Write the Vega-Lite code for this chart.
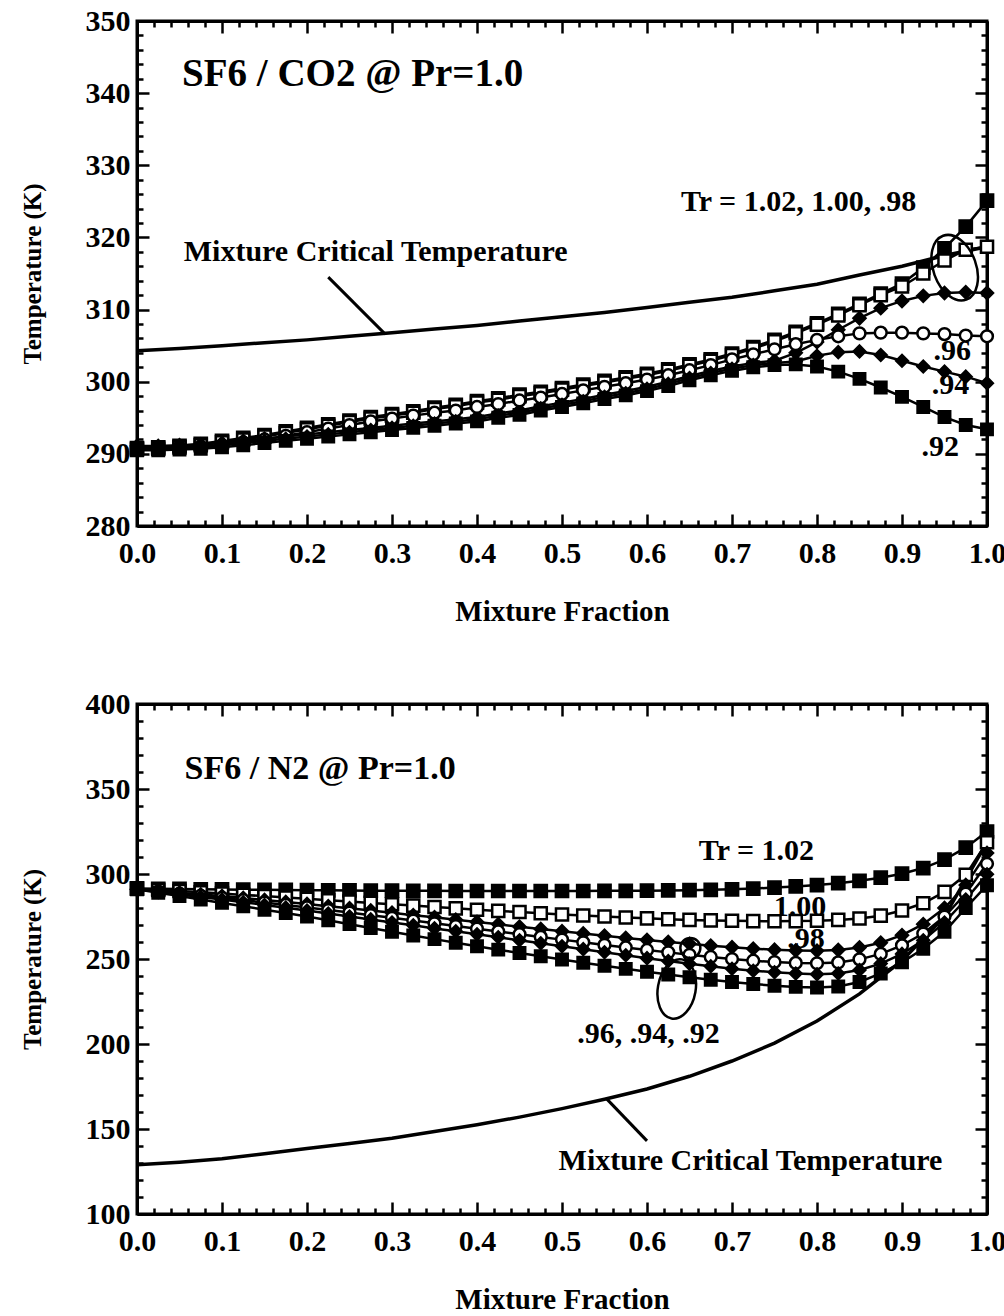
{
  "$schema": "https://vega.github.io/schema/vega-lite/v6.json",
  "background": "white",
  "padding": {"left": 18, "top": 4, "right": 0, "bottom": 0},
  "spacing": 59,
  "config": {
    "font": "Liberation Serif",
    "view": {"stroke": "black", "strokeWidth": 3},
    "axis": {"domainColor": "black", "domainWidth": 3, "tickColor": "black", "tickWidth": 2.5, "labelColor": "black", "titleColor": "black", "labelFont": "Liberation Serif", "titleFont": "Liberation Serif", "labelFontWeight": "bold", "labelFontSize": 30, "titleFontWeight": "bold", "labelOverlap": false, "labelFlush": false, "grid": false}
  },
  "datasets": {
    "crit": [
      {"p":"C","f":0,"t":304.3},{"p":"C","f":0.05,"t":304.6},{"p":"C","f":0.1,"t":305.0},{"p":"C","f":0.15,"t":305.4},{"p":"C","f":0.2,"t":305.8},{"p":"C","f":0.25,"t":306.3},{"p":"C","f":0.3,"t":306.8},{"p":"C","f":0.35,"t":307.3},{"p":"C","f":0.4,"t":307.8},{"p":"C","f":0.45,"t":308.4},{"p":"C","f":0.5,"t":309.0},{"p":"C","f":0.55,"t":309.6},{"p":"C","f":0.6,"t":310.3},{"p":"C","f":0.65,"t":311.0},{"p":"C","f":0.7,"t":311.7},{"p":"C","f":0.75,"t":312.6},{"p":"C","f":0.8,"t":313.5},{"p":"C","f":0.85,"t":314.8},{"p":"C","f":0.9,"t":316.0},{"p":"C","f":0.95,"t":317.5},{"p":"C","f":1,"t":318.7},
      {"p":"N","f":0,"t":129.0},{"p":"N","f":0.05,"t":130.5},{"p":"N","f":0.1,"t":132.5},{"p":"N","f":0.15,"t":135.5},{"p":"N","f":0.2,"t":138.5},{"p":"N","f":0.25,"t":141.5},{"p":"N","f":0.3,"t":144.5},{"p":"N","f":0.35,"t":148.5},{"p":"N","f":0.4,"t":152.5},{"p":"N","f":0.45,"t":157.0},{"p":"N","f":0.5,"t":162.0},{"p":"N","f":0.55,"t":167.5},{"p":"N","f":0.6,"t":173.5},{"p":"N","f":0.65,"t":181.0},{"p":"N","f":0.7,"t":190.0},{"p":"N","f":0.75,"t":200.5},{"p":"N","f":0.8,"t":213.5},{"p":"N","f":0.85,"t":229.5},{"p":"N","f":0.9,"t":249.0},{"p":"N","f":0.95,"t":275.0},{"p":"N","f":1,"t":318.7}
    ],
    "lead": [
      {"p":"C","f":0.225,"t":314.5},{"p":"C","f":0.292,"t":306.6},
      {"p":"N","f":0.552,"t":168.0},{"p":"N","f":0.6,"t":143.0}
    ],
    "ann": [
      {"p":"C","f":0.055,"t":318.0,"label":"Mixture Critical Temperature"},
      {"p":"C","f":0.64,"t":324.9,"label":"Tr = 1.02, 1.00, .98"},
      {"p":"C","f":0.937,"t":304.3,"label":".96"},
      {"p":"C","f":0.935,"t":299.6,"label":".94"},
      {"p":"C","f":0.923,"t":291.0,"label":".92"},
      {"p":"N","f":0.661,"t":313.5,"label":"Tr = 1.02"},
      {"p":"N","f":0.749,"t":280.6,"label":"1.00"},
      {"p":"N","f":0.765,"t":261.8,"label":".98"},
      {"p":"N","f":0.518,"t":205.9,"label":".96, .94, .92"},
      {"p":"N","f":0.496,"t":131.2,"label":"Mixture Critical Temperature"}
    ],
    "titles": [
      {"p":"C","f":0.053,"t":342.65,"label":"SF6 / CO2 @ Pr=1.0"},
      {"p":"N","f":0.056,"t":361.8,"label":"SF6 / N2 @ Pr=1.0"}
    ],
    "ell": [
      {"p":"C","k":"big","f":0.962,"t":315.8},
      {"p":"N","k":"big","f":0.635,"t":232.4},
      {"p":"N","k":"small","f":0.651,"t":256.5}
    ],
    "s": [
{"p":"C","s":"1.02","f":0,"t":290.8},{"p":"C","s":"1.02","f":0.025,"t":290.9},{"p":"C","s":"1.02","f":0.05,"t":291.1},{"p":"C","s":"1.02","f":0.075,"t":291.4},{"p":"C","s":"1.02","f":0.1,"t":291.8},{"p":"C","s":"1.02","f":0.125,"t":292.2},{"p":"C","s":"1.02","f":0.15,"t":292.6},{"p":"C","s":"1.02","f":0.175,"t":293.1},{"p":"C","s":"1.02","f":0.2,"t":293.6},{"p":"C","s":"1.02","f":0.225,"t":294.1},{"p":"C","s":"1.02","f":0.25,"t":294.6},{"p":"C","s":"1.02","f":0.275,"t":295.1},{"p":"C","s":"1.02","f":0.3,"t":295.5},{"p":"C","s":"1.02","f":0.325,"t":295.9},{"p":"C","s":"1.02","f":0.35,"t":296.4},{"p":"C","s":"1.02","f":0.375,"t":296.8},{"p":"C","s":"1.02","f":0.4,"t":297.3},{"p":"C","s":"1.02","f":0.425,"t":297.7},{"p":"C","s":"1.02","f":0.45,"t":298.2},{"p":"C","s":"1.02","f":0.475,"t":298.6},{"p":"C","s":"1.02","f":0.5,"t":299.1},{"p":"C","s":"1.02","f":0.525,"t":299.6},{"p":"C","s":"1.02","f":0.55,"t":300.1},{"p":"C","s":"1.02","f":0.575,"t":300.6},{"p":"C","s":"1.02","f":0.6,"t":301.1},{"p":"C","s":"1.02","f":0.625,"t":301.7},{"p":"C","s":"1.02","f":0.65,"t":302.4},{"p":"C","s":"1.02","f":0.675,"t":303.1},{"p":"C","s":"1.02","f":0.7,"t":303.9},{"p":"C","s":"1.02","f":0.725,"t":304.8},{"p":"C","s":"1.02","f":0.75,"t":305.8},{"p":"C","s":"1.02","f":0.775,"t":306.9},{"p":"C","s":"1.02","f":0.8,"t":308.1},{"p":"C","s":"1.02","f":0.825,"t":309.4},{"p":"C","s":"1.02","f":0.85,"t":310.8},{"p":"C","s":"1.02","f":0.875,"t":312.2},{"p":"C","s":"1.02","f":0.9,"t":313.6},{"p":"C","s":"1.02","f":0.925,"t":315.8},{"p":"C","s":"1.02","f":0.95,"t":318.5},{"p":"C","s":"1.02","f":0.975,"t":321.5},{"p":"C","s":"1.02","f":1,"t":325.1},
{"p":"C","s":"1.00","f":0,"t":290.6},{"p":"C","s":"1.00","f":0.025,"t":290.7},{"p":"C","s":"1.00","f":0.05,"t":290.9},{"p":"C","s":"1.00","f":0.075,"t":291.2},{"p":"C","s":"1.00","f":0.1,"t":291.6},{"p":"C","s":"1.00","f":0.125,"t":292.0},{"p":"C","s":"1.00","f":0.15,"t":292.4},{"p":"C","s":"1.00","f":0.175,"t":292.9},{"p":"C","s":"1.00","f":0.2,"t":293.4},{"p":"C","s":"1.00","f":0.225,"t":293.9},{"p":"C","s":"1.00","f":0.25,"t":294.4},{"p":"C","s":"1.00","f":0.275,"t":294.9},{"p":"C","s":"1.00","f":0.3,"t":295.3},{"p":"C","s":"1.00","f":0.325,"t":295.7},{"p":"C","s":"1.00","f":0.35,"t":296.2},{"p":"C","s":"1.00","f":0.375,"t":296.6},{"p":"C","s":"1.00","f":0.4,"t":297.1},{"p":"C","s":"1.00","f":0.425,"t":297.5},{"p":"C","s":"1.00","f":0.45,"t":298.0},{"p":"C","s":"1.00","f":0.475,"t":298.4},{"p":"C","s":"1.00","f":0.5,"t":298.9},{"p":"C","s":"1.00","f":0.525,"t":299.4},{"p":"C","s":"1.00","f":0.55,"t":299.9},{"p":"C","s":"1.00","f":0.575,"t":300.4},{"p":"C","s":"1.00","f":0.6,"t":300.9},{"p":"C","s":"1.00","f":0.625,"t":301.5},{"p":"C","s":"1.00","f":0.65,"t":302.2},{"p":"C","s":"1.00","f":0.675,"t":302.9},{"p":"C","s":"1.00","f":0.7,"t":303.7},{"p":"C","s":"1.00","f":0.725,"t":304.6},{"p":"C","s":"1.00","f":0.75,"t":305.6},{"p":"C","s":"1.00","f":0.775,"t":306.7},{"p":"C","s":"1.00","f":0.8,"t":307.9},{"p":"C","s":"1.00","f":0.825,"t":309.2},{"p":"C","s":"1.00","f":0.85,"t":310.6},{"p":"C","s":"1.00","f":0.875,"t":312.0},{"p":"C","s":"1.00","f":0.9,"t":313.2},{"p":"C","s":"1.00","f":0.925,"t":315.0},{"p":"C","s":"1.00","f":0.95,"t":316.8},{"p":"C","s":"1.00","f":0.975,"t":318.3},{"p":"C","s":"1.00","f":1,"t":318.7},
{"p":"C","s":".98","f":0,"t":291.1},{"p":"C","s":".98","f":0.025,"t":291.1},{"p":"C","s":".98","f":0.05,"t":291.2},{"p":"C","s":".98","f":0.075,"t":291.3},{"p":"C","s":".98","f":0.1,"t":291.5},{"p":"C","s":".98","f":0.125,"t":291.8},{"p":"C","s":".98","f":0.15,"t":292.1},{"p":"C","s":".98","f":0.175,"t":292.4},{"p":"C","s":".98","f":0.2,"t":292.7},{"p":"C","s":".98","f":0.225,"t":293.0},{"p":"C","s":".98","f":0.25,"t":293.3},{"p":"C","s":".98","f":0.275,"t":293.6},{"p":"C","s":".98","f":0.3,"t":293.9},{"p":"C","s":".98","f":0.325,"t":294.2},{"p":"C","s":".98","f":0.35,"t":294.5},{"p":"C","s":".98","f":0.375,"t":294.8},{"p":"C","s":".98","f":0.4,"t":295.1},{"p":"C","s":".98","f":0.425,"t":295.6},{"p":"C","s":".98","f":0.45,"t":296.0},{"p":"C","s":".98","f":0.475,"t":296.6},{"p":"C","s":".98","f":0.5,"t":297.1},{"p":"C","s":".98","f":0.525,"t":297.6},{"p":"C","s":".98","f":0.55,"t":298.2},{"p":"C","s":".98","f":0.575,"t":298.7},{"p":"C","s":".98","f":0.6,"t":299.3},{"p":"C","s":".98","f":0.625,"t":300.0},{"p":"C","s":".98","f":0.65,"t":300.8},{"p":"C","s":".98","f":0.675,"t":301.5},{"p":"C","s":".98","f":0.7,"t":302.1},{"p":"C","s":".98","f":0.725,"t":302.6},{"p":"C","s":".98","f":0.75,"t":302.9},{"p":"C","s":".98","f":0.775,"t":304.0},{"p":"C","s":".98","f":0.8,"t":305.5},{"p":"C","s":".98","f":0.825,"t":307.2},{"p":"C","s":".98","f":0.85,"t":308.8},{"p":"C","s":".98","f":0.875,"t":310.2},{"p":"C","s":".98","f":0.9,"t":311.2},{"p":"C","s":".98","f":0.925,"t":311.9},{"p":"C","s":".98","f":0.95,"t":312.3},{"p":"C","s":".98","f":0.975,"t":312.4},{"p":"C","s":".98","f":1,"t":312.3},
{"p":"C","s":".96","f":0,"t":290.6},{"p":"C","s":".96","f":0.025,"t":290.6},{"p":"C","s":".96","f":0.05,"t":290.7},{"p":"C","s":".96","f":0.075,"t":290.9},{"p":"C","s":".96","f":0.1,"t":291.2},{"p":"C","s":".96","f":0.125,"t":291.6},{"p":"C","s":".96","f":0.15,"t":292.0},{"p":"C","s":".96","f":0.175,"t":292.5},{"p":"C","s":".96","f":0.2,"t":293.0},{"p":"C","s":".96","f":0.225,"t":293.5},{"p":"C","s":".96","f":0.25,"t":294.0},{"p":"C","s":".96","f":0.275,"t":294.5},{"p":"C","s":".96","f":0.3,"t":294.9},{"p":"C","s":".96","f":0.325,"t":295.3},{"p":"C","s":".96","f":0.35,"t":295.7},{"p":"C","s":".96","f":0.375,"t":296.0},{"p":"C","s":".96","f":0.4,"t":296.5},{"p":"C","s":".96","f":0.425,"t":296.9},{"p":"C","s":".96","f":0.45,"t":297.4},{"p":"C","s":".96","f":0.475,"t":297.8},{"p":"C","s":".96","f":0.5,"t":298.3},{"p":"C","s":".96","f":0.525,"t":298.8},{"p":"C","s":".96","f":0.55,"t":299.3},{"p":"C","s":".96","f":0.575,"t":299.8},{"p":"C","s":".96","f":0.6,"t":300.3},{"p":"C","s":".96","f":0.625,"t":300.9},{"p":"C","s":".96","f":0.65,"t":301.6},{"p":"C","s":".96","f":0.675,"t":302.3},{"p":"C","s":".96","f":0.7,"t":303.1},{"p":"C","s":".96","f":0.725,"t":303.8},{"p":"C","s":".96","f":0.75,"t":304.5},{"p":"C","s":".96","f":0.775,"t":305.2},{"p":"C","s":".96","f":0.8,"t":305.8},{"p":"C","s":".96","f":0.825,"t":306.3},{"p":"C","s":".96","f":0.85,"t":306.7},{"p":"C","s":".96","f":0.875,"t":306.8},{"p":"C","s":".96","f":0.9,"t":306.8},{"p":"C","s":".96","f":0.925,"t":306.7},{"p":"C","s":".96","f":0.95,"t":306.6},{"p":"C","s":".96","f":0.975,"t":306.4},{"p":"C","s":".96","f":1,"t":306.3},
{"p":"C","s":".94","f":0,"t":290.8},{"p":"C","s":".94","f":0.025,"t":290.8},{"p":"C","s":".94","f":0.05,"t":290.9},{"p":"C","s":".94","f":0.075,"t":291.0},{"p":"C","s":".94","f":0.1,"t":291.2},{"p":"C","s":".94","f":0.125,"t":291.5},{"p":"C","s":".94","f":0.15,"t":291.8},{"p":"C","s":".94","f":0.175,"t":292.1},{"p":"C","s":".94","f":0.2,"t":292.4},{"p":"C","s":".94","f":0.225,"t":292.7},{"p":"C","s":".94","f":0.25,"t":293.0},{"p":"C","s":".94","f":0.275,"t":293.3},{"p":"C","s":".94","f":0.3,"t":293.6},{"p":"C","s":".94","f":0.325,"t":293.9},{"p":"C","s":".94","f":0.35,"t":294.2},{"p":"C","s":".94","f":0.375,"t":294.5},{"p":"C","s":".94","f":0.4,"t":294.8},{"p":"C","s":".94","f":0.425,"t":295.3},{"p":"C","s":".94","f":0.45,"t":295.7},{"p":"C","s":".94","f":0.475,"t":296.3},{"p":"C","s":".94","f":0.5,"t":296.8},{"p":"C","s":".94","f":0.525,"t":297.3},{"p":"C","s":".94","f":0.55,"t":297.9},{"p":"C","s":".94","f":0.575,"t":298.4},{"p":"C","s":".94","f":0.6,"t":299.0},{"p":"C","s":".94","f":0.625,"t":299.7},{"p":"C","s":".94","f":0.65,"t":300.5},{"p":"C","s":".94","f":0.675,"t":301.2},{"p":"C","s":".94","f":0.7,"t":301.8},{"p":"C","s":".94","f":0.725,"t":302.3},{"p":"C","s":".94","f":0.75,"t":302.6},{"p":"C","s":".94","f":0.775,"t":302.8},{"p":"C","s":".94","f":0.8,"t":303.6},{"p":"C","s":".94","f":0.825,"t":304.1},{"p":"C","s":".94","f":0.85,"t":304.2},{"p":"C","s":".94","f":0.875,"t":303.7},{"p":"C","s":".94","f":0.9,"t":302.9},{"p":"C","s":".94","f":0.925,"t":302.1},{"p":"C","s":".94","f":0.95,"t":301.4},{"p":"C","s":".94","f":0.975,"t":300.7},{"p":"C","s":".94","f":1,"t":299.8},
{"p":"C","s":".92","f":0,"t":290.5},{"p":"C","s":".92","f":0.025,"t":290.5},{"p":"C","s":".92","f":0.05,"t":290.6},{"p":"C","s":".92","f":0.075,"t":290.7},{"p":"C","s":".92","f":0.1,"t":290.9},{"p":"C","s":".92","f":0.125,"t":291.2},{"p":"C","s":".92","f":0.15,"t":291.5},{"p":"C","s":".92","f":0.175,"t":291.8},{"p":"C","s":".92","f":0.2,"t":292.1},{"p":"C","s":".92","f":0.225,"t":292.4},{"p":"C","s":".92","f":0.25,"t":292.7},{"p":"C","s":".92","f":0.275,"t":293.0},{"p":"C","s":".92","f":0.3,"t":293.3},{"p":"C","s":".92","f":0.325,"t":293.6},{"p":"C","s":".92","f":0.35,"t":293.9},{"p":"C","s":".92","f":0.375,"t":294.2},{"p":"C","s":".92","f":0.4,"t":294.5},{"p":"C","s":".92","f":0.425,"t":295.0},{"p":"C","s":".92","f":0.45,"t":295.4},{"p":"C","s":".92","f":0.475,"t":296.0},{"p":"C","s":".92","f":0.5,"t":296.5},{"p":"C","s":".92","f":0.525,"t":297.0},{"p":"C","s":".92","f":0.55,"t":297.6},{"p":"C","s":".92","f":0.575,"t":298.1},{"p":"C","s":".92","f":0.6,"t":298.7},{"p":"C","s":".92","f":0.625,"t":299.4},{"p":"C","s":".92","f":0.65,"t":300.2},{"p":"C","s":".92","f":0.675,"t":300.9},{"p":"C","s":".92","f":0.7,"t":301.5},{"p":"C","s":".92","f":0.725,"t":302.0},{"p":"C","s":".92","f":0.75,"t":302.3},{"p":"C","s":".92","f":0.775,"t":302.4},{"p":"C","s":".92","f":0.8,"t":302.1},{"p":"C","s":".92","f":0.825,"t":301.4},{"p":"C","s":".92","f":0.85,"t":300.4},{"p":"C","s":".92","f":0.875,"t":299.2},{"p":"C","s":".92","f":0.9,"t":297.9},{"p":"C","s":".92","f":0.925,"t":296.5},{"p":"C","s":".92","f":0.95,"t":295.1},{"p":"C","s":".92","f":0.975,"t":294.0},{"p":"C","s":".92","f":1,"t":293.4},
{"p":"N","s":"1.02","f":0,"t":291.5},{"p":"N","s":"1.02","f":0.025,"t":291.3},{"p":"N","s":"1.02","f":0.05,"t":291.2},{"p":"N","s":"1.02","f":0.075,"t":291.0},{"p":"N","s":"1.02","f":0.1,"t":290.9},{"p":"N","s":"1.02","f":0.125,"t":290.8},{"p":"N","s":"1.02","f":0.15,"t":290.7},{"p":"N","s":"1.02","f":0.175,"t":290.6},{"p":"N","s":"1.02","f":0.2,"t":290.5},{"p":"N","s":"1.02","f":0.225,"t":290.4},{"p":"N","s":"1.02","f":0.25,"t":290.3},{"p":"N","s":"1.02","f":0.275,"t":290.2},{"p":"N","s":"1.02","f":0.3,"t":290.2},{"p":"N","s":"1.02","f":0.325,"t":290.1},{"p":"N","s":"1.02","f":0.35,"t":290.1},{"p":"N","s":"1.02","f":0.375,"t":290.0},{"p":"N","s":"1.02","f":0.4,"t":290.0},{"p":"N","s":"1.02","f":0.425,"t":290.0},{"p":"N","s":"1.02","f":0.45,"t":290.0},{"p":"N","s":"1.02","f":0.475,"t":290.0},{"p":"N","s":"1.02","f":0.5,"t":290.0},{"p":"N","s":"1.02","f":0.525,"t":290.0},{"p":"N","s":"1.02","f":0.55,"t":290.1},{"p":"N","s":"1.02","f":0.575,"t":290.1},{"p":"N","s":"1.02","f":0.6,"t":290.2},{"p":"N","s":"1.02","f":0.625,"t":290.3},{"p":"N","s":"1.02","f":0.65,"t":290.5},{"p":"N","s":"1.02","f":0.675,"t":290.7},{"p":"N","s":"1.02","f":0.7,"t":291.0},{"p":"N","s":"1.02","f":0.725,"t":291.4},{"p":"N","s":"1.02","f":0.75,"t":292.0},{"p":"N","s":"1.02","f":0.775,"t":292.7},{"p":"N","s":"1.02","f":0.8,"t":293.5},{"p":"N","s":"1.02","f":0.825,"t":294.6},{"p":"N","s":"1.02","f":0.85,"t":296.0},{"p":"N","s":"1.02","f":0.875,"t":297.8},{"p":"N","s":"1.02","f":0.9,"t":300.2},{"p":"N","s":"1.02","f":0.925,"t":303.5},{"p":"N","s":"1.02","f":0.95,"t":308.5},{"p":"N","s":"1.02","f":0.975,"t":315.5},{"p":"N","s":"1.02","f":1,"t":325.0},
{"p":"N","s":"1.00","f":0,"t":291.3},{"p":"N","s":"1.00","f":0.025,"t":290.6},{"p":"N","s":"1.00","f":0.05,"t":290.0},{"p":"N","s":"1.00","f":0.075,"t":289.2},{"p":"N","s":"1.00","f":0.1,"t":288.5},{"p":"N","s":"1.00","f":0.125,"t":287.7},{"p":"N","s":"1.00","f":0.15,"t":287.0},{"p":"N","s":"1.00","f":0.175,"t":286.2},{"p":"N","s":"1.00","f":0.2,"t":285.4},{"p":"N","s":"1.00","f":0.225,"t":284.6},{"p":"N","s":"1.00","f":0.25,"t":283.8},{"p":"N","s":"1.00","f":0.275,"t":283.0},{"p":"N","s":"1.00","f":0.3,"t":282.2},{"p":"N","s":"1.00","f":0.325,"t":281.4},{"p":"N","s":"1.00","f":0.35,"t":280.6},{"p":"N","s":"1.00","f":0.375,"t":279.8},{"p":"N","s":"1.00","f":0.4,"t":279.0},{"p":"N","s":"1.00","f":0.425,"t":278.3},{"p":"N","s":"1.00","f":0.45,"t":277.6},{"p":"N","s":"1.00","f":0.475,"t":276.9},{"p":"N","s":"1.00","f":0.5,"t":276.2},{"p":"N","s":"1.00","f":0.525,"t":275.6},{"p":"N","s":"1.00","f":0.55,"t":275.0},{"p":"N","s":"1.00","f":0.575,"t":274.4},{"p":"N","s":"1.00","f":0.6,"t":273.9},{"p":"N","s":"1.00","f":0.625,"t":273.4},{"p":"N","s":"1.00","f":0.65,"t":273.0},{"p":"N","s":"1.00","f":0.675,"t":272.7},{"p":"N","s":"1.00","f":0.7,"t":272.5},{"p":"N","s":"1.00","f":0.725,"t":272.3},{"p":"N","s":"1.00","f":0.75,"t":272.2},{"p":"N","s":"1.00","f":0.775,"t":272.3},{"p":"N","s":"1.00","f":0.8,"t":272.5},{"p":"N","s":"1.00","f":0.825,"t":273.0},{"p":"N","s":"1.00","f":0.85,"t":273.8},{"p":"N","s":"1.00","f":0.875,"t":275.5},{"p":"N","s":"1.00","f":0.9,"t":278.5},{"p":"N","s":"1.00","f":0.925,"t":282.8},{"p":"N","s":"1.00","f":0.95,"t":289.5},{"p":"N","s":"1.00","f":0.975,"t":299.5},{"p":"N","s":"1.00","f":1,"t":318.7},
{"p":"N","s":".98","f":0,"t":291.0},{"p":"N","s":".98","f":0.025,"t":290.0},{"p":"N","s":".98","f":0.05,"t":289.0},{"p":"N","s":".98","f":0.075,"t":288.0},{"p":"N","s":".98","f":0.1,"t":287.0},{"p":"N","s":".98","f":0.125,"t":285.9},{"p":"N","s":".98","f":0.15,"t":284.7},{"p":"N","s":".98","f":0.175,"t":283.5},{"p":"N","s":".98","f":0.2,"t":282.3},{"p":"N","s":".98","f":0.225,"t":281.0},{"p":"N","s":".98","f":0.25,"t":279.8},{"p":"N","s":".98","f":0.275,"t":278.5},{"p":"N","s":".98","f":0.3,"t":277.2},{"p":"N","s":".98","f":0.325,"t":275.8},{"p":"N","s":".98","f":0.35,"t":274.5},{"p":"N","s":".98","f":0.375,"t":273.1},{"p":"N","s":".98","f":0.4,"t":271.8},{"p":"N","s":".98","f":0.425,"t":270.4},{"p":"N","s":".98","f":0.45,"t":269.0},{"p":"N","s":".98","f":0.475,"t":267.6},{"p":"N","s":".98","f":0.5,"t":266.3},{"p":"N","s":".98","f":0.525,"t":265.0},{"p":"N","s":".98","f":0.55,"t":263.7},{"p":"N","s":".98","f":0.575,"t":262.4},{"p":"N","s":".98","f":0.6,"t":261.2},{"p":"N","s":".98","f":0.625,"t":260.0},{"p":"N","s":".98","f":0.65,"t":258.9},{"p":"N","s":".98","f":0.675,"t":257.8},{"p":"N","s":".98","f":0.7,"t":256.9},{"p":"N","s":".98","f":0.725,"t":256.1},{"p":"N","s":".98","f":0.75,"t":255.4},{"p":"N","s":".98","f":0.775,"t":255.0},{"p":"N","s":".98","f":0.8,"t":254.8},{"p":"N","s":".98","f":0.825,"t":255.3},{"p":"N","s":".98","f":0.85,"t":256.8},{"p":"N","s":".98","f":0.875,"t":259.6},{"p":"N","s":".98","f":0.9,"t":264.0},{"p":"N","s":".98","f":0.925,"t":270.5},{"p":"N","s":".98","f":0.95,"t":280.0},{"p":"N","s":".98","f":0.975,"t":293.5},{"p":"N","s":".98","f":1,"t":312.3},
{"p":"N","s":".96","f":0,"t":291.0},{"p":"N","s":".96","f":0.025,"t":289.7},{"p":"N","s":".96","f":0.05,"t":288.5},{"p":"N","s":".96","f":0.075,"t":287.2},{"p":"N","s":".96","f":0.1,"t":286.0},{"p":"N","s":".96","f":0.125,"t":284.6},{"p":"N","s":".96","f":0.15,"t":283.2},{"p":"N","s":".96","f":0.175,"t":281.8},{"p":"N","s":".96","f":0.2,"t":280.3},{"p":"N","s":".96","f":0.225,"t":278.8},{"p":"N","s":".96","f":0.25,"t":277.3},{"p":"N","s":".96","f":0.275,"t":275.8},{"p":"N","s":".96","f":0.3,"t":274.2},{"p":"N","s":".96","f":0.325,"t":272.6},{"p":"N","s":".96","f":0.35,"t":271.0},{"p":"N","s":".96","f":0.375,"t":269.4},{"p":"N","s":".96","f":0.4,"t":267.8},{"p":"N","s":".96","f":0.425,"t":266.2},{"p":"N","s":".96","f":0.45,"t":264.6},{"p":"N","s":".96","f":0.475,"t":263.0},{"p":"N","s":".96","f":0.5,"t":261.4},{"p":"N","s":".96","f":0.525,"t":259.8},{"p":"N","s":".96","f":0.55,"t":258.3},{"p":"N","s":".96","f":0.575,"t":256.8},{"p":"N","s":".96","f":0.6,"t":255.3},{"p":"N","s":".96","f":0.625,"t":253.9},{"p":"N","s":".96","f":0.65,"t":252.5},{"p":"N","s":".96","f":0.675,"t":251.2},{"p":"N","s":".96","f":0.7,"t":250.0},{"p":"N","s":".96","f":0.725,"t":249.0},{"p":"N","s":".96","f":0.75,"t":248.2},{"p":"N","s":".96","f":0.775,"t":247.7},{"p":"N","s":".96","f":0.8,"t":247.5},{"p":"N","s":".96","f":0.825,"t":248.0},{"p":"N","s":".96","f":0.85,"t":249.8},{"p":"N","s":".96","f":0.875,"t":253.0},{"p":"N","s":".96","f":0.9,"t":258.0},{"p":"N","s":".96","f":0.925,"t":265.0},{"p":"N","s":".96","f":0.95,"t":275.0},{"p":"N","s":".96","f":0.975,"t":288.5},{"p":"N","s":".96","f":1,"t":306.0},
{"p":"N","s":".94","f":0,"t":291.0},{"p":"N","s":".94","f":0.025,"t":289.5},{"p":"N","s":".94","f":0.05,"t":288.0},{"p":"N","s":".94","f":0.075,"t":286.5},{"p":"N","s":".94","f":0.1,"t":285.0},{"p":"N","s":".94","f":0.125,"t":283.4},{"p":"N","s":".94","f":0.15,"t":281.8},{"p":"N","s":".94","f":0.175,"t":280.2},{"p":"N","s":".94","f":0.2,"t":278.5},{"p":"N","s":".94","f":0.225,"t":276.8},{"p":"N","s":".94","f":0.25,"t":275.0},{"p":"N","s":".94","f":0.275,"t":273.3},{"p":"N","s":".94","f":0.3,"t":271.5},{"p":"N","s":".94","f":0.325,"t":269.8},{"p":"N","s":".94","f":0.35,"t":268.0},{"p":"N","s":".94","f":0.375,"t":266.3},{"p":"N","s":".94","f":0.4,"t":264.5},{"p":"N","s":".94","f":0.425,"t":262.8},{"p":"N","s":".94","f":0.45,"t":261.0},{"p":"N","s":".94","f":0.475,"t":259.3},{"p":"N","s":".94","f":0.5,"t":257.5},{"p":"N","s":".94","f":0.525,"t":255.8},{"p":"N","s":".94","f":0.55,"t":254.0},{"p":"N","s":".94","f":0.575,"t":252.2},{"p":"N","s":".94","f":0.6,"t":250.5},{"p":"N","s":".94","f":0.625,"t":248.8},{"p":"N","s":".94","f":0.65,"t":247.2},{"p":"N","s":".94","f":0.675,"t":245.7},{"p":"N","s":".94","f":0.7,"t":244.3},{"p":"N","s":".94","f":0.725,"t":243.1},{"p":"N","s":".94","f":0.75,"t":242.2},{"p":"N","s":".94","f":0.775,"t":241.5},{"p":"N","s":".94","f":0.8,"t":241.0},{"p":"N","s":".94","f":0.825,"t":241.5},{"p":"N","s":".94","f":0.85,"t":243.5},{"p":"N","s":".94","f":0.875,"t":247.3},{"p":"N","s":".94","f":0.9,"t":253.0},{"p":"N","s":".94","f":0.925,"t":261.0},{"p":"N","s":".94","f":0.95,"t":271.5},{"p":"N","s":".94","f":0.975,"t":285.0},{"p":"N","s":".94","f":1,"t":299.8},
{"p":"N","s":".92","f":0,"t":291.0},{"p":"N","s":".92","f":0.025,"t":289.0},{"p":"N","s":".92","f":0.05,"t":287.0},{"p":"N","s":".92","f":0.075,"t":285.0},{"p":"N","s":".92","f":0.1,"t":283.0},{"p":"N","s":".92","f":0.125,"t":281.0},{"p":"N","s":".92","f":0.15,"t":279.0},{"p":"N","s":".92","f":0.175,"t":277.0},{"p":"N","s":".92","f":0.2,"t":275.0},{"p":"N","s":".92","f":0.225,"t":272.8},{"p":"N","s":".92","f":0.25,"t":270.5},{"p":"N","s":".92","f":0.275,"t":268.2},{"p":"N","s":".92","f":0.3,"t":266.0},{"p":"N","s":".92","f":0.325,"t":263.8},{"p":"N","s":".92","f":0.35,"t":261.7},{"p":"N","s":".92","f":0.375,"t":259.6},{"p":"N","s":".92","f":0.4,"t":257.5},{"p":"N","s":".92","f":0.425,"t":255.5},{"p":"N","s":".92","f":0.45,"t":253.5},{"p":"N","s":".92","f":0.475,"t":251.6},{"p":"N","s":".92","f":0.5,"t":249.7},{"p":"N","s":".92","f":0.525,"t":247.8},{"p":"N","s":".92","f":0.55,"t":246.0},{"p":"N","s":".92","f":0.575,"t":244.2},{"p":"N","s":".92","f":0.6,"t":242.5},{"p":"N","s":".92","f":0.625,"t":240.9},{"p":"N","s":".92","f":0.65,"t":239.3},{"p":"N","s":".92","f":0.675,"t":237.8},{"p":"N","s":".92","f":0.7,"t":236.5},{"p":"N","s":".92","f":0.725,"t":235.3},{"p":"N","s":".92","f":0.75,"t":234.3},{"p":"N","s":".92","f":0.775,"t":233.6},{"p":"N","s":".92","f":0.8,"t":233.2},{"p":"N","s":".92","f":0.825,"t":233.8},{"p":"N","s":".92","f":0.85,"t":236.5},{"p":"N","s":".92","f":0.875,"t":241.5},{"p":"N","s":".92","f":0.9,"t":248.0},{"p":"N","s":".92","f":0.925,"t":256.0},{"p":"N","s":".92","f":0.95,"t":266.0},{"p":"N","s":".92","f":0.975,"t":280.0},{"p":"N","s":".92","f":1,"t":293.4}
    ]
  },
  "vconcat": [
    {
      "width": 850, "height": 505,
      "encoding": {
        "x": {"field": "f", "type": "quantitative", "scale": {"domain": [0, 1], "nice": false, "zero": false}, "axis": null},
        "y": {"field": "t", "type": "quantitative", "scale": {"domain": [280, 350], "nice": false, "zero": false}, "axis": null}
      },
      "layer": [
        {
          "data": {"name": "crit"},
          "transform": [{"filter": "datum.p === 'C'"}],
          "mark": {"type": "line", "color": "black", "strokeWidth": 3.5},
          "encoding": {
            "x": {"field": "f", "type": "quantitative", "axis": {"orient": "bottom", "values": [0,0.02,0.04,0.06,0.08,0.1,0.12,0.14,0.16,0.18,0.2,0.22,0.24,0.26,0.28,0.3,0.32,0.34,0.36,0.38,0.4,0.42,0.44,0.46,0.48,0.5,0.52,0.54,0.56,0.58,0.6,0.62,0.64,0.66,0.68,0.7,0.72,0.74,0.76,0.78,0.8,0.82,0.84,0.86,0.88,0.9,0.92,0.94,0.96,0.98,1], "labelExpr": "abs(datum.value*10-round(datum.value*10))<0.001 ? format(datum.value,'.1f') : ''", "tickSize": {"condition": {"test": "abs(datum.value*10-round(datum.value*10))<0.001", "value": -12}, "value": -6}, "labelPadding": 24, "title": "Mixture Fraction", "titleFontSize": 29, "titleY": 71, "titleBaseline": "top"}},
            "y": {"field": "t", "type": "quantitative", "axis": {"orient": "left", "values": [280,282,284,286,288,290,292,294,296,298,300,302,304,306,308,310,312,314,316,318,320,322,324,326,328,330,332,334,336,338,340,342,344,346,348,350], "labelExpr": "datum.value % 10 === 0 ? datum.label : ''", "tickSize": {"condition": {"test": "datum.value % 10 === 0", "value": -12}, "value": -6}, "labelPadding": 19, "title": "Temperature (K)", "titleFontSize": 25, "titleX": -105, "titleBaseline": "middle"}}
          }
        },
        {
          "data": {"name": "crit"},
          "transform": [{"filter": "datum.p === 'C'"}],
          "mark": {"type": "line", "opacity": 0},
          "encoding": {
            "x": {"field": "f", "type": "quantitative", "axis": {"orient": "top", "values": [0,0.02,0.04,0.06,0.08,0.1,0.12,0.14,0.16,0.18,0.2,0.22,0.24,0.26,0.28,0.3,0.32,0.34,0.36,0.38,0.4,0.42,0.44,0.46,0.48,0.5,0.52,0.54,0.56,0.58,0.6,0.62,0.64,0.66,0.68,0.7,0.72,0.74,0.76,0.78,0.8,0.82,0.84,0.86,0.88,0.9,0.92,0.94,0.96,0.98,1], "labels": false, "title": null, "tickSize": {"condition": {"test": "abs(datum.value*10-round(datum.value*10))<0.001", "value": -12}, "value": -6}}},
            "y": {"field": "t", "type": "quantitative", "axis": {"orient": "right", "values": [280,282,284,286,288,290,292,294,296,298,300,302,304,306,308,310,312,314,316,318,320,322,324,326,328,330,332,334,336,338,340,342,344,346,348,350], "labels": false, "title": null, "tickSize": {"condition": {"test": "datum.value % 10 === 0", "value": -12}, "value": -6}}}
          }
        },
        {
          "data": {"name": "s"},
          "transform": [{"filter": "datum.p === 'C'"}],
          "mark": {"type": "line", "color": "black", "strokeWidth": 2.5},
          "encoding": {"detail": {"field": "s"}}
        },
        {
          "data": {"name": "s"},
          "transform": [{"filter": "datum.p === 'C'"}],
          "mark": {"type": "point", "stroke": "black", "strokeWidth": 2.5, "opacity": 1},
          "encoding": {
            "shape": {"field": "s", "type": "nominal", "scale": {"domain": ["1.02","1.00",".98",".96",".94",".92"], "range": ["square","square","diamond","circle","diamond","square"]}, "legend": null},
            "fill": {"field": "s", "type": "nominal", "scale": {"domain": ["1.02","1.00",".98",".96",".94",".92"], "range": ["black","white","black","white","black","black"]}, "legend": null},
            "size": {"field": "s", "type": "nominal", "scale": {"domain": ["1.02","1.00",".98",".96",".94",".92"], "range": [150,130,200,90,160,200]}, "legend": null}
          }
        },
        {
          "data": {"name": "lead"},
          "transform": [{"filter": "datum.p === 'C'"}],
          "mark": {"type": "line", "color": "black", "strokeWidth": 3},
          "encoding": {}
        },
        {
          "data": {"name": "ell"},
          "transform": [{"filter": "datum.p === 'C' && datum.k === 'big'"}],
          "mark": {"type": "point", "shape": "M0,-1C0.348,-1,0.63,-0.552,0.63,0C0.63,0.552,0.348,1,0,1C-0.348,1,-0.63,0.552,-0.63,0C-0.63,-0.552,-0.348,-1,0,-1Z", "size": 4624, "angle": -20, "stroke": "black", "strokeWidth": 2.5, "fill": null, "filled": false, "opacity": 1},
          "encoding": {}
        },
        {
          "data": {"name": "ann"},
          "transform": [{"filter": "datum.p === 'C'"}],
          "mark": {"type": "text", "font": "Liberation Serif", "fontSize": 30, "fontWeight": "bold", "align": "left", "baseline": "middle", "color": "black"},
          "encoding": {"text": {"field": "label"}}
        },
        {
          "data": {"name": "titles"},
          "transform": [{"filter": "datum.p === 'C'"}],
          "mark": {"type": "text", "font": "Liberation Serif", "fontSize": 39, "fontWeight": "bold", "align": "left", "baseline": "middle", "color": "black"},
          "encoding": {"text": {"field": "label"}}
        }
      ]
    },
    {
      "width": 850, "height": 510,
      "encoding": {
        "x": {"field": "f", "type": "quantitative", "scale": {"domain": [0, 1], "nice": false, "zero": false}, "axis": null},
        "y": {"field": "t", "type": "quantitative", "scale": {"domain": [100, 400], "nice": false, "zero": false}, "axis": null}
      },
      "layer": [
        {
          "data": {"name": "crit"},
          "transform": [{"filter": "datum.p === 'N'"}],
          "mark": {"type": "line", "color": "black", "strokeWidth": 3.5},
          "encoding": {
            "x": {"field": "f", "type": "quantitative", "axis": {"orient": "bottom", "values": [0,0.02,0.04,0.06,0.08,0.1,0.12,0.14,0.16,0.18,0.2,0.22,0.24,0.26,0.28,0.3,0.32,0.34,0.36,0.38,0.4,0.42,0.44,0.46,0.48,0.5,0.52,0.54,0.56,0.58,0.6,0.62,0.64,0.66,0.68,0.7,0.72,0.74,0.76,0.78,0.8,0.82,0.84,0.86,0.88,0.9,0.92,0.94,0.96,0.98,1], "labelExpr": "abs(datum.value*10-round(datum.value*10))<0.001 ? format(datum.value,'.1f') : ''", "tickSize": {"condition": {"test": "abs(datum.value*10-round(datum.value*10))<0.001", "value": -12}, "value": -6}, "labelPadding": 24, "title": "Mixture Fraction", "titleFontSize": 29, "titleY": 71, "titleBaseline": "top"}},
            "y": {"field": "t", "type": "quantitative", "axis": {"orient": "left", "values": [100,110,120,130,140,150,160,170,180,190,200,210,220,230,240,250,260,270,280,290,300,310,320,330,340,350,360,370,380,390,400], "labelExpr": "datum.value % 50 === 0 ? datum.label : ''", "tickSize": {"condition": {"test": "datum.value % 50 === 0", "value": -12}, "value": -6}, "labelPadding": 19, "title": "Temperature (K)", "titleFontSize": 25, "titleX": -105, "titleBaseline": "middle"}}
          }
        },
        {
          "data": {"name": "crit"},
          "transform": [{"filter": "datum.p === 'N'"}],
          "mark": {"type": "line", "opacity": 0},
          "encoding": {
            "x": {"field": "f", "type": "quantitative", "axis": {"orient": "top", "values": [0,0.02,0.04,0.06,0.08,0.1,0.12,0.14,0.16,0.18,0.2,0.22,0.24,0.26,0.28,0.3,0.32,0.34,0.36,0.38,0.4,0.42,0.44,0.46,0.48,0.5,0.52,0.54,0.56,0.58,0.6,0.62,0.64,0.66,0.68,0.7,0.72,0.74,0.76,0.78,0.8,0.82,0.84,0.86,0.88,0.9,0.92,0.94,0.96,0.98,1], "labels": false, "title": null, "tickSize": {"condition": {"test": "abs(datum.value*10-round(datum.value*10))<0.001", "value": -12}, "value": -6}}},
            "y": {"field": "t", "type": "quantitative", "axis": {"orient": "right", "values": [100,110,120,130,140,150,160,170,180,190,200,210,220,230,240,250,260,270,280,290,300,310,320,330,340,350,360,370,380,390,400], "labels": false, "title": null, "tickSize": {"condition": {"test": "datum.value % 50 === 0", "value": -12}, "value": -6}}}
          }
        },
        {
          "data": {"name": "s"},
          "transform": [{"filter": "datum.p === 'N'"}],
          "mark": {"type": "line", "color": "black", "strokeWidth": 2.5},
          "encoding": {"detail": {"field": "s"}}
        },
        {
          "data": {"name": "s"},
          "transform": [{"filter": "datum.p === 'N'"}],
          "mark": {"type": "point", "stroke": "black", "strokeWidth": 2.5, "opacity": 1},
          "encoding": {
            "shape": {"field": "s", "type": "nominal", "scale": {"domain": ["1.02","1.00",".98",".96",".94",".92"], "range": ["square","square","diamond","circle","diamond","square"]}, "legend": null},
            "fill": {"field": "s", "type": "nominal", "scale": {"domain": ["1.02","1.00",".98",".96",".94",".92"], "range": ["black","white","black","white","black","black"]}, "legend": null},
            "size": {"field": "s", "type": "nominal", "scale": {"domain": ["1.02","1.00",".98",".96",".94",".92"], "range": [80,130,200,90,160,230]}, "legend": null}
          }
        },
        {
          "data": {"name": "lead"},
          "transform": [{"filter": "datum.p === 'N'"}],
          "mark": {"type": "line", "color": "black", "strokeWidth": 3},
          "encoding": {}
        },
        {
          "data": {"name": "ell"},
          "transform": [{"filter": "datum.p === 'N' && datum.k === 'big'"}],
          "mark": {"type": "point", "shape": "M0,-1C0.348,-1,0.63,-0.552,0.63,0C0.63,0.552,0.348,1,0,1C-0.348,1,-0.63,0.552,-0.63,0C-0.63,-0.552,-0.348,-1,0,-1Z", "size": 3600, "angle": 10, "stroke": "black", "strokeWidth": 2.5, "fill": null, "filled": false, "opacity": 1},
          "encoding": {}
        },
        {
          "data": {"name": "ell"},
          "transform": [{"filter": "datum.p === 'N' && datum.k === 'small'"}],
          "mark": {"type": "point", "shape": "circle", "size": 400, "stroke": "black", "strokeWidth": 2.5, "fill": null, "filled": false, "opacity": 1},
          "encoding": {}
        },
        {
          "data": {"name": "ann"},
          "transform": [{"filter": "datum.p === 'N'"}],
          "mark": {"type": "text", "font": "Liberation Serif", "fontSize": 30, "fontWeight": "bold", "align": "left", "baseline": "middle", "color": "black"},
          "encoding": {"text": {"field": "label"}}
        },
        {
          "data": {"name": "titles"},
          "transform": [{"filter": "datum.p === 'N'"}],
          "mark": {"type": "text", "font": "Liberation Serif", "fontSize": 34, "fontWeight": "bold", "align": "left", "baseline": "middle", "color": "black"},
          "encoding": {"text": {"field": "label"}}
        }
      ]
    }
  ]
}
